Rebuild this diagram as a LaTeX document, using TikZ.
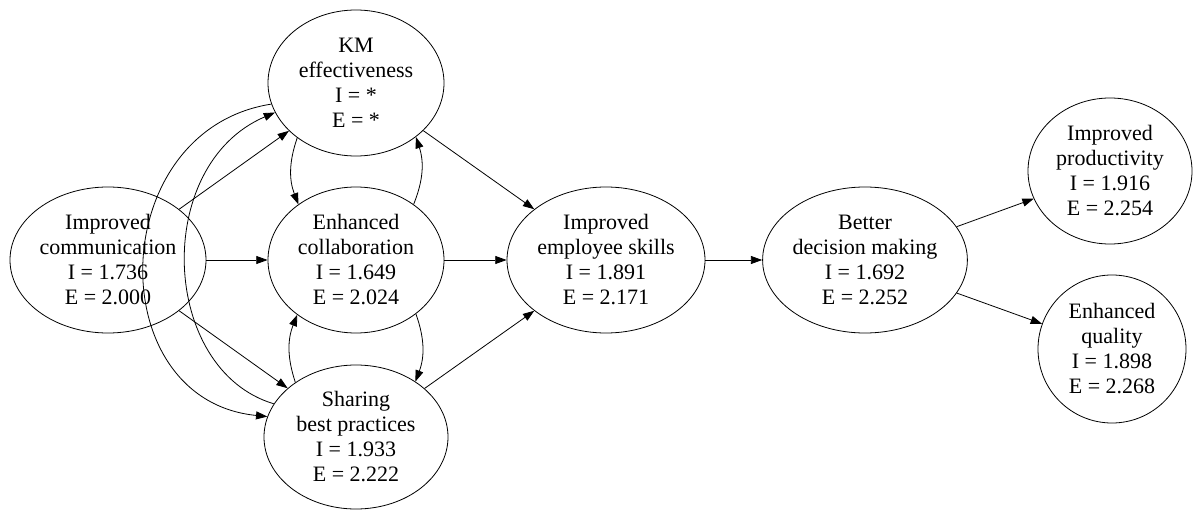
\documentclass[tikz,border=0pt]{standalone}
\usepackage{fontspec}
\setmainfont{Liberation Serif}
\usepackage{tikz}
\usetikzlibrary{shapes,arrows.meta,positioning}

\begin{document}
\begin{tikzpicture}[
    x=0.75pt, y=-0.75pt,
    factor/.style={
        ellipse,
        draw,
        line width=0.6pt,
        inner sep=0pt,
        align=center,
        font=\fontsize{16.5}{18.75}\selectfont
    },
    link/.style={
        line width=0.6pt,
        -{Triangle[length=8.5pt,width=6pt]}
    }
]
    \useasboundingbox (0,0) rectangle (1193,510);

    % factors
    \node[factor, minimum width=147pt, minimum height=109.5pt] (comm) at (108,260)
        {Improved\\communication\\I = 1.736\\E = 2.000};
    \node[factor, minimum width=132pt, minimum height=109.5pt] (km) at (356,83)
        {KM\\effectiveness\\I = *\\E = *};
    \node[factor, minimum width=132pt, minimum height=109.5pt] (collab) at (356,260)
        {Enhanced\\collaboration\\I = 1.649\\E = 2.024};
    \node[factor, minimum width=138pt, minimum height=108pt] (sharing) at (356,437)
        {Sharing\\best practices\\I = 1.933\\E = 2.222};
    \node[factor, minimum width=148.5pt, minimum height=109.5pt] (skills) at (606,260)
        {Improved\\employee skills\\I = 1.891\\E = 2.171};
    \node[factor, minimum width=153pt, minimum height=109.5pt] (decision) at (865,260)
        {Better\\decision making\\I = 1.692\\E = 2.252};
    \node[factor, minimum width=123pt, minimum height=109.5pt] (prod) at (1110,171)
        {Improved\\productivity\\I = 1.916\\E = 2.254};
    \node[factor, minimum width=111pt, minimum height=111pt] (quality) at (1112,349)
        {Enhanced\\quality\\I = 1.898\\E = 2.268};

    % links out of communication
    \draw[link] (comm) -- (km);
    \draw[link] (comm) -- (collab);
    \draw[link] (comm) -- (sharing);

    % links between the middle column
    \draw[link] (km.223) to[bend right=20] (collab.136);
    \draw[link] (collab.44) to[bend right=20] (km.318);
    \draw[link] (collab.318) to[bend left=20] (sharing.43);
    \draw[link] (sharing.138) to[bend left=20] (collab.223);
    \draw[link] (km.194) .. controls (105,130) and (100,400) .. (sharing.167);
    \draw[link] (sharing.158) .. controls (160,370) and (152,165) .. (km.200);

    % links to the outcomes
    \draw[link] (km) -- (skills);
    \draw[link] (collab) -- (skills);
    \draw[link] (sharing) -- (skills);
    \draw[link] (skills) -- (decision);
    \draw[link] (decision) -- (prod);
    \draw[link] (decision) -- (quality);
\end{tikzpicture}
\end{document}
